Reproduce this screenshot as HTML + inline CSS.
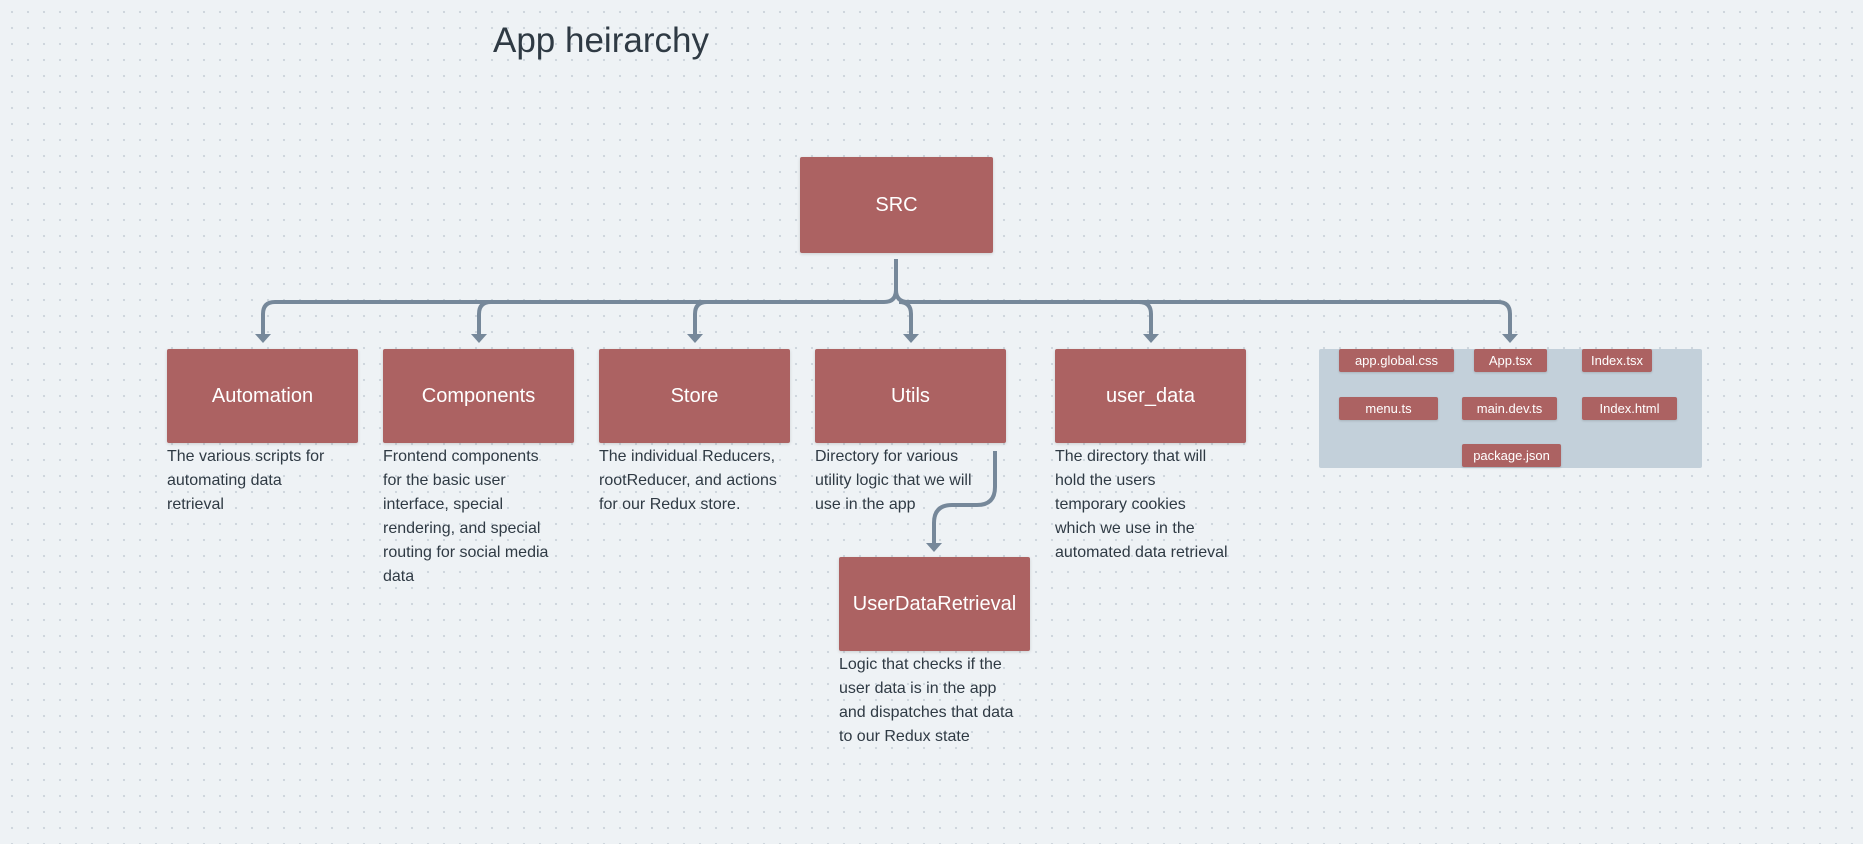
<!DOCTYPE html>
<html><head><meta charset="utf-8"><style>
html,body{margin:0;padding:0}
body{width:1863px;height:844px;position:relative;overflow:hidden;background-color:#eef2f5;
background-image:radial-gradient(circle,#cdd5dc 1px,transparent 1.3px);background-size:16px 16px;background-position:4px 4px;
font-family:"Liberation Sans",sans-serif}
.box{position:absolute;background:#ac6262;color:#fff;display:flex;align-items:center;justify-content:center;font-size:20px;border-radius:2px;box-shadow:0 1px 3px rgba(0,0,0,.15)}
.desc{position:absolute;color:#2f3a44;font-size:16px;line-height:24px;white-space:nowrap}
.chip{position:absolute;background:#ac6262;color:#fff;font-size:13px;display:flex;align-items:center;justify-content:center;border-radius:2px;height:23px;box-shadow:0 1px 2px rgba(0,0,0,.15)}
svg{position:absolute;left:0;top:0}
</style></head><body>
<div style="position:absolute;left:493px;top:21px;font-size:35px;color:#2f3a44">App heirarchy</div>
<div style="position:absolute;left:1319px;top:349px;width:383px;height:119px;background:#c3d0da;border-radius:2px"></div>
<svg width="1863" height="844">
<g fill="none" stroke="#76889a" stroke-width="4">
<path d="M263 340 V314 Q263 302 275 302 H884 Q896 302 896 290 V259 M896 290 Q896 302 908 302 H1498 Q1510 302 1510 314 V340"/>
<path d="M479 340 V314 Q479 302 491 302 M695 340 V314 Q695 302 707 302 M911 340 V314 Q911 302 899 302 M1151 340 V314 Q1151 302 1139 302"/>
<path d="M995 451 V487 Q995 505 977 505 H952 Q934 505 934 523 V549"/>
</g>
<g fill="#76889a">
<path d="M255 334 H271 L263 343Z"/><path d="M471 334 H487 L479 343Z"/><path d="M687 334 H703 L695 343Z"/>
<path d="M903 334 H919 L911 343Z"/><path d="M1143 334 H1159 L1151 343Z"/><path d="M1502 334 H1518 L1510 343Z"/>
<path d="M926 543 H942 L934 552Z"/>
</g>
</svg>
<div class="box" style="left:800px;top:157px;width:193px;height:96px">SRC</div>
<div class="box" style="left:167px;top:349px;width:191px;height:94px">Automation</div>
<div class="box" style="left:383px;top:349px;width:191px;height:94px">Components</div>
<div class="box" style="left:599px;top:349px;width:191px;height:94px">Store</div>
<div class="box" style="left:815px;top:349px;width:191px;height:94px">Utils</div>
<div class="box" style="left:1055px;top:349px;width:191px;height:94px">user_data</div>
<div class="box" style="left:839px;top:557px;width:191px;height:94px">UserDataRetrieval</div>
<div class="desc" style="left:167px;top:445px">The various scripts for<br>automating data<br>retrieval</div>
<div class="desc" style="left:383px;top:445px">Frontend components<br>for the basic user<br>interface, special<br>rendering, and special<br>routing for social media<br>data</div>
<div class="desc" style="left:599px;top:445px">The individual Reducers,<br>rootReducer, and actions<br>for our Redux store.</div>
<div class="desc" style="left:815px;top:445px">Directory for various<br>utility logic that we will<br>use in the app</div>
<div class="desc" style="left:1055px;top:445px">The directory that will<br>hold the users<br>temporary cookies<br>which we use in the<br>automated data retrieval</div>
<div class="desc" style="left:839px;top:653px">Logic that checks if the<br>user data is in the app<br>and dispatches that data<br>to our Redux state</div>
<div class="chip" style="left:1339px;top:349px;width:115px">app.global.css</div>
<div class="chip" style="left:1474px;top:349px;width:73px">App.tsx</div>
<div class="chip" style="left:1582px;top:349px;width:70px">Index.tsx</div>
<div class="chip" style="left:1339px;top:397px;width:99px">menu.ts</div>
<div class="chip" style="left:1462px;top:397px;width:95px">main.dev.ts</div>
<div class="chip" style="left:1582px;top:397px;width:95px">Index.html</div>
<div class="chip" style="left:1462px;top:444px;width:99px">package.json</div>
</body></html>
